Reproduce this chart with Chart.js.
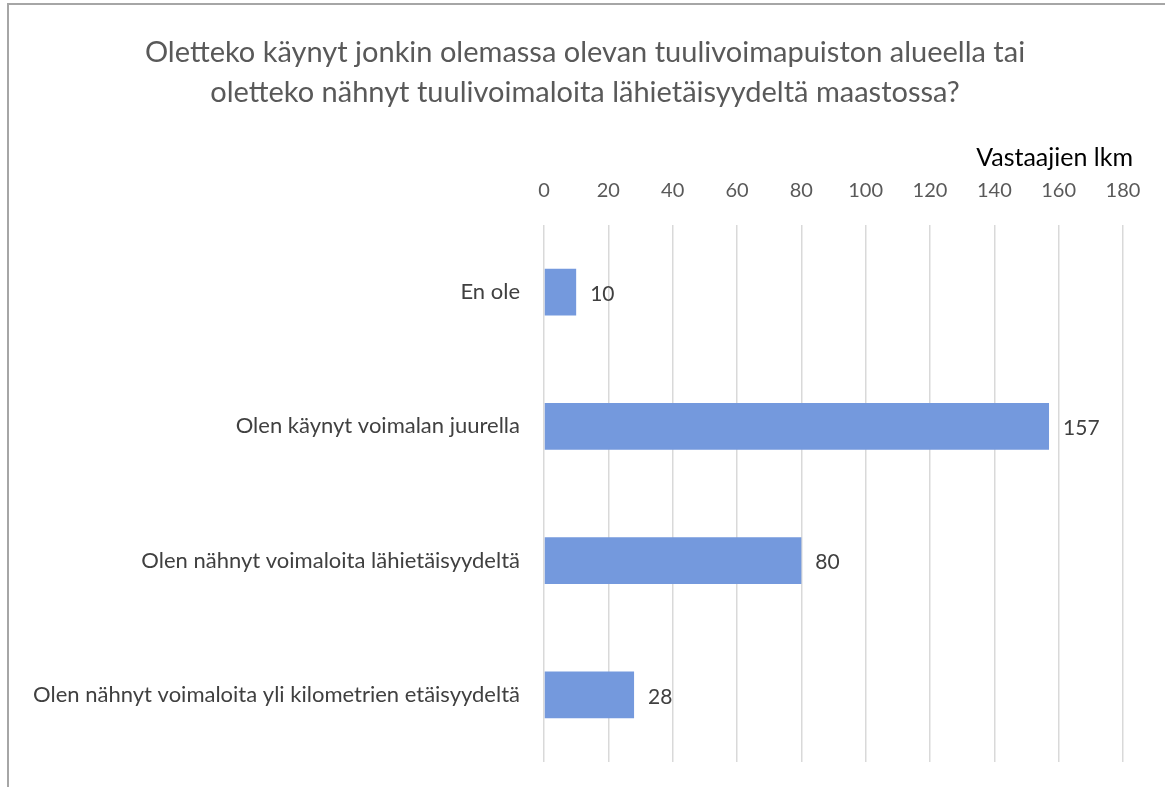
<!DOCTYPE html>
<html>
<head>
<meta charset="utf-8">
<script src="https://cdn.jsdelivr.net/npm/chart.js@4.4.0/dist/chart.umd.min.js"></script>
<style>
  html, body { margin: 0; padding: 0; background: #fff; }
  #wrap { position: relative; width: 1165px; height: 787px; overflow: hidden; }
  #frame { position: absolute; left: 7px; top: 3px; width: 1200px; height: 900px;
           border-left: 2px solid #a6a6a6; border-top: 2px solid #a6a6a6; }
  canvas { position: absolute; left: 0; top: 0; }
</style>
</head>
<body>
<div id="wrap">
  <div id="frame"></div>
  <canvas id="bar-chart" width="1165" height="787"></canvas>
</div>
<script>
const categories = [
  "En ole",
  "Olen käynyt voimalan juurella",
  "Olen nähnyt voimaloita lähietäisyydeltä",
  "Olen nähnyt voimaloita yli kilometrien etäisyydeltä",
];
const respondents = [10, 157, 80, 28];
const titleLines = [
  "Oletteko käynyt jonkin olemassa olevan tuulivoimapuiston alueella tai",
  "oletteko nähnyt tuulivoimaloita lähietäisyydeltä maastossa?",
];
const axisTitle = "Vastaajien lkm";

const FONT = "Lato, 'Open Sans', sans-serif";

// chart title (centred on the whole frame) and the axis title above the ticks
const titles = {
  id: "titles",
  afterDraw(chart) {
    const ctx = chart.ctx;
    ctx.save();
    ctx.textBaseline = "middle";
    ctx.font = "29px " + FONT;
    ctx.fillStyle = "#595959";
    ctx.textAlign = "center";
    titleLines.forEach((line, i) => ctx.fillText(line, 585, 53 + i * 40));
    ctx.font = "25px " + FONT;
    ctx.fillStyle = "#000000";
    ctx.textAlign = "right";
    ctx.fillText(axisTitle, chart.chartArea.right + 10, 158);
    ctx.restore();
  },
};

// value labels at the end of each bar
const barLabels = {
  id: "barLabels",
  afterDatasetsDraw(chart) {
    const ctx = chart.ctx;
    const meta = chart.getDatasetMeta(0);
    ctx.save();
    ctx.font = "21px " + FONT;
    ctx.fillStyle = "#404040";
    ctx.textAlign = "left";
    ctx.textBaseline = "middle";
    meta.data.forEach((bar, i) => {
      ctx.fillText(String(respondents[i]), bar.x + 14, bar.y + 2);
    });
    ctx.restore();
  },
};

const config = {
  type: "bar",
  data: {
    labels: categories,
    datasets: [
      {
        label: axisTitle,
        data: respondents,
        backgroundColor: "#7499dd",
        borderWidth: 0,
        barPercentage: 0.35,
        categoryPercentage: 1,
      },
    ],
  },
  options: {
    indexAxis: "y",
    responsive: false,
    animation: false,
    layout: { padding: { left: 0, right: 42, top: 140, bottom: 25 } },
    plugins: {
      legend: { display: false },
      tooltip: { enabled: false },
      title: { display: false },
    },
    scales: {
      x: {
        position: "top",
        min: 0,
        max: 180,
        ticks: {
          stepSize: 20,
          color: "#595959",
          font: { family: FONT, size: 20 },
          padding: 22,
        },
        grid: { color: "#d9d9d9", lineWidth: 1.5, drawTicks: false },
        border: { display: false },
        afterFit(scale) { scale.height = 85; },
      },
      y: {
        ticks: {
          color: "#404040",
          font: { family: FONT, size: 22 },
          padding: 24,
        },
        grid: { display: false, drawTicks: false },
        border: { display: false },
        afterFit(scale) {
          scale.width = 544;
          scale.paddingTop = 0;
          scale.paddingBottom = 0;
        },
      },
    },
  },
  plugins: [barLabels, titles],
};

const ctx = document.getElementById("bar-chart").getContext("2d");
new Chart(ctx, config);
</script>
</body>
</html>
